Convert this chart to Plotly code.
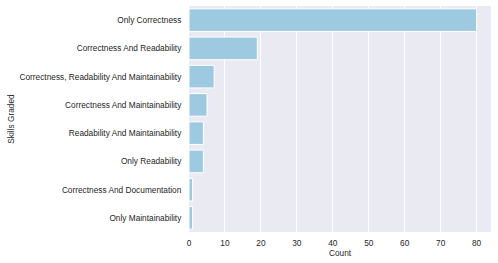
import plotly.graph_objects as go

categories = [
    "Only Correctness",
    "Correctness And Readability",
    "Correctness, Readability And Maintainability",
    "Correctness And Maintainability",
    "Readability And Maintainability",
    "Only Readability",
    "Correctness And Documentation",
    "Only Maintainability",
]
counts = [80, 19, 7, 5, 4, 4, 1, 1]
x_ticks = [0, 10, 20, 30, 40, 50, 60, 70, 80]

fig = go.Figure(go.Bar(
    x=counts, y=categories, orientation="h",
    marker=dict(color="#9ecae1", line=dict(color="white", width=1)),
    width=0.8,
))
fig.update_layout(
    width=498, height=263,
    margin=dict(l=189, r=7, t=6, b=31),
    paper_bgcolor="white", plot_bgcolor="#eaeaf2",
    font=dict(family="Liberation Sans, Arial, sans-serif", size=8.3, color="#262626"),
    showlegend=False, bargap=0.2,
)
fig.update_xaxes(
    range=[0, 84], tickvals=x_ticks, showgrid=True, gridcolor="white", gridwidth=1,
    zeroline=False, showline=False, ticks="outside", ticklen=3, tickcolor="rgba(0,0,0,0)",
    automargin=False,
    title=dict(text="Count", standoff=2, font=dict(size=8.3)),
)
fig.update_yaxes(
    categoryorder="array", categoryarray=categories, autorange="reversed",
    showgrid=False, zeroline=False, showline=False, ticks="outside", ticklen=5,
    tickcolor="rgba(0,0,0,0)", automargin=False,
    title=dict(text="Skills Graded", standoff=3, font=dict(size=8.3)),
)
fig.write_html(
    "out.html",
    config={"displayModeBar": False},
    post_script="document.body.style.margin='0';document.body.style.overflow='hidden';",
)
